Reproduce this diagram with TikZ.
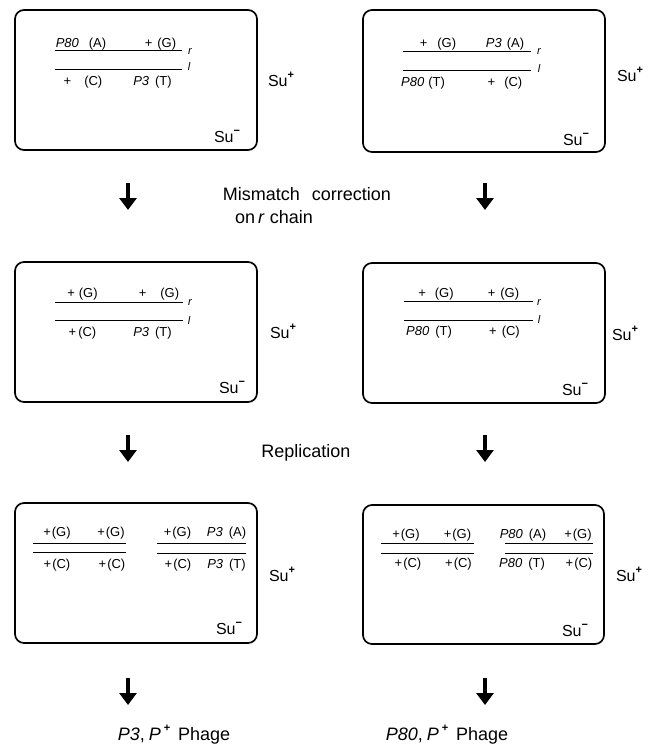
\documentclass[tikz,border=0pt]{standalone}
\usepackage{fontspec}
\setmainfont{Liberation Sans}
\usetikzlibrary{arrows.meta}
\newcommand{\hiup}[1]{\raisebox{0.5em}{\fontsize{11}{11}\selectfont\bfseries #1}}

\begin{document}
\begin{tikzpicture}[x=1pt,y=-1pt,
	cell/.style={draw,line width=1.7pt,rounded corners=9pt,inner sep=0pt},
	strand/.style={line width=0.9pt},
	tag/.style={font=\fontsize{13}{15}\selectfont,inner sep=0pt},
	chain/.style={font=\fontsize{11}{13}\selectfont\itshape,inner sep=0pt},
	side/.style={font=\fontsize{16}{18}\selectfont,inner sep=0pt},
	note/.style={font=\fontsize{18}{21}\selectfont,inner sep=0pt},
	flow/.style={line width=3.2pt,-{Triangle[width=17pt,length=12pt]}}]
	\useasboundingbox (0,0) rectangle (652,744);
	% the six plates
	\node [cell,minimum width=242pt,minimum height=140pt] (plateA) at (136,80) {};
	\node [cell,minimum width=242pt,minimum height=142pt] (plateB) at (484,81) {};
	\node [cell,minimum width=242pt,minimum height=140pt] (plateC) at (136,332) {};
	\node [cell,minimum width=242pt,minimum height=140pt] (plateD) at (484,333) {};
	\node [cell,minimum width=242pt,minimum height=140pt] (plateE) at (136,573) {};
	\node [cell,minimum width=241pt,minimum height=139pt] (plateF) at (483.5,574.5) {};
	\node [side] (supA) at (281,79) {Su\hiup{+}};
	\node [side] (supB) at (630,74) {Su\hiup{+}};
	\node [side] (supC) at (283,331) {Su\hiup{+}};
	\node [side] (supD) at (625,333) {Su\hiup{+}};
	\node [side] (supE) at (282,574) {Su\hiup{+}};
	\node [side] (supF) at (629,574) {Su\hiup{+}};
	\node [side] (sumA) at (227,136) {Su\hiup{−}};
	\node [side] (sumB) at (576,139) {Su\hiup{−}};
	\node [side] (sumC) at (232,387) {Su\hiup{−}};
	\node [side] (sumD) at (575,389) {Su\hiup{−}};
	\node [side] (sumE) at (229,628) {Su\hiup{−}};
	\node [side] (sumF) at (575,630) {Su\hiup{−}};
	% plate A
	\draw [strand] (55,50) -- (182,50);
	\draw [strand] (55,69) -- (182,69);
	\node [chain] (rA) at (190,52) {r};
	\node [chain] (lA) at (189,67) {l};
	\node [tag] (a1) at (81,44) {\textit{P80}\hspace{10pt}(A)};
	\node [tag] (a2) at (160.5,44) {+\hspace{5pt}(G)};
	\node [tag] (a3) at (83,82) {+\hspace{13pt}(C)};
	\node [tag] (a4) at (152.5,82) {\textit{P3}\hspace{6pt}(T)};
	% plate B
	\draw [strand] (403,51) -- (531,51);
	\draw [strand] (403,70) -- (531,70);
	\node [chain] (rB) at (539,52) {r};
	\node [chain] (lB) at (539,69) {l};
	\node [tag] (b1) at (438,44) {+\hspace{10pt}(G)};
	\node [tag] (b2) at (505,44) {\textit{P3}\hspace{5pt}(A)};
	\node [tag] (b3) at (423,83) {\textit{P80}\hspace{4pt}(T)};
	\node [tag] (b4) at (505,83) {+\hspace{9pt}(C)};
	% plate C
	\draw [strand] (55,302) -- (183,302);
	\draw [strand] (55,320) -- (183,320);
	\node [chain] (rC) at (190,303) {r};
	\node [chain] (lC) at (189,321) {l};
	\node [tag] (c1) at (82.5,294) {+\hspace{4pt}(G)};
	\node [tag] (c2) at (159,294) {+\hspace{14pt}(G)};
	\node [tag] (c3) at (82.5,333) {+\hspace{2pt}(C)};
	\node [tag] (c4) at (152.5,333) {\textit{P3}\hspace{6pt}(T)};
	% plate D
	\draw [strand] (404,301) -- (533,301);
	\draw [strand] (404,320) -- (533,320);
	\node [chain] (rD) at (539,303) {r};
	\node [chain] (lD) at (539,320) {l};
	\node [tag] (d1) at (436,294) {+\hspace{9pt}(G)};
	\node [tag] (d2) at (503.5,294) {+\hspace{5pt}(G)};
	\node [tag] (d3) at (429,332) {\textit{P80}\hspace{6pt}(T)};
	\node [tag] (d4) at (504.5,332) {+\hspace{5pt}(C)};
	% plate E
	\draw [strand] (33,543) -- (126,543);
	\draw [strand] (33,552) -- (126,552);
	\draw [strand] (157,543) -- (246,543);
	\draw [strand] (157,553) -- (246,553);
	\node [tag] (e1) at (57,533.5) {+\hspace{1pt}(G)};
	\node [tag] (e2) at (111,533.5) {+\hspace{1pt}(G)};
	\node [tag] (e3) at (57,565) {+\hspace{1pt}(C)};
	\node [tag] (e4) at (112,565) {+\hspace{1pt}(C)};
	\node [tag] (e5) at (177.5,533.5) {+\hspace{1pt}(G)};
	\node [tag] (e6) at (226.5,533.5) {\textit{P3}\hspace{6pt}(A)};
	\node [tag] (e7) at (178,565) {+\hspace{1pt}(C)};
	\node [tag] (e8) at (226.5,565) {\textit{P3}\hspace{6pt}(T)};
	% plate F
	\draw [strand] (381,543) -- (474,543);
	\draw [strand] (381,553) -- (474,553);
	\draw [strand] (505,543) -- (593,543);
	\draw [strand] (505,553) -- (593,553);
	\node [tag] (f1) at (406,535) {+\hspace{1pt}(G)};
	\node [tag] (f2) at (457.5,535) {+\hspace{1pt}(G)};
	\node [tag] (f3) at (408,564) {+\hspace{1pt}(C)};
	\node [tag] (f4) at (458.5,564) {+\hspace{1pt}(C)};
	\node [tag] (f5) at (523,535) {\textit{P80}\hspace{6pt}(A)};
	\node [tag] (f6) at (578,535) {+\hspace{1pt}(G)};
	\node [tag] (f7) at (522,564) {\textit{P80}\hspace{6pt}(T)};
	\node [tag] (f8) at (579,564) {+\hspace{1pt}(C)};
	% steps between plates
	\foreach \x in {128,485}
		\foreach \y in {183,435,678}
			\draw [flow] (\x,\y) -- (\x,\y+27);
	\node [note] (mism) at (307,194) {Mismatch\hspace{12pt}correction};
	\node [note] (onr) at (274,217) {on\,\textit{r} chain};
	\node [note] (repl) at (306,453) {Replication};
	\node [note] (phA) at (174,735) {\textit{P3},\hspace{4pt}\textit{P}\hspace{3pt}\hiup{+}\hspace{8pt}Phage};
	\node [note] (phB) at (447,735) {\textit{P80},\hspace{4pt}\textit{P}\hspace{3pt}\hiup{+}\hspace{8pt}Phage};
\end{tikzpicture}
\end{document}
